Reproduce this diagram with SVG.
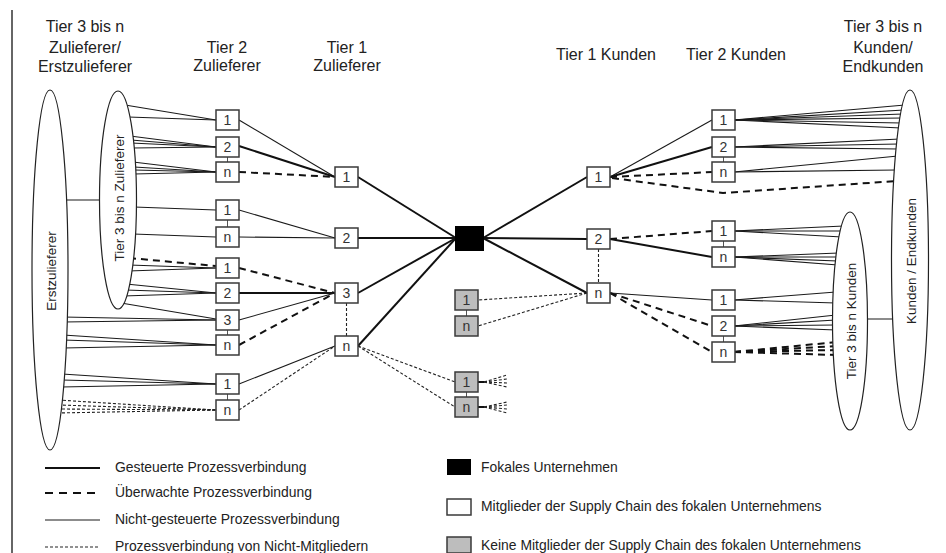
<svg xmlns="http://www.w3.org/2000/svg" width="946" height="553" viewBox="0 0 946 553">
<style>
text{font-family:"Liberation Sans",Arial,sans-serif;fill:#222}
.hd{font-size:16px;text-anchor:middle}
.rot{font-size:13.5px;text-anchor:middle}
.lg{font-size:13.9px}
.bl{font-size:14px;text-anchor:middle;fill:#333}
.box{fill:#fff;stroke:#3a3a3a;stroke-width:1.5}
.gbox{fill:#bdbdbd;stroke:#3a3a3a;stroke-width:1.5}
.ell{fill:#fff;stroke:#222;stroke-width:1.2}
.g{stroke:#111;stroke-width:2;fill:none}
.t{stroke:#1a1a1a;stroke-width:1.1;fill:none}
.d{stroke:#111;stroke-width:2;stroke-dasharray:7 5;fill:none}
.p{stroke:#222;stroke-width:1.1;stroke-dasharray:3 2;fill:none}
.lk{stroke:#555;stroke-width:1;fill:none}
</style>
<rect width="946" height="553" fill="#fff"/>
<line x1="12" y1="10" x2="12" y2="553" stroke="#333" stroke-width="1.5"/>

<g id="headers">
<text class="hd" x="85" y="32">Tier 3 bis n</text>
<text class="hd" x="85" y="53">Zulieferer/</text>
<text class="hd" x="85" y="72">Erstzulieferer</text>
<text class="hd" x="227" y="53">Tier 2</text>
<text class="hd" x="227" y="71">Zulieferer</text>
<text class="hd" x="347" y="53">Tier 1</text>
<text class="hd" x="347" y="71">Zulieferer</text>
<text class="hd" x="606" y="60">Tier 1 Kunden</text>
<text class="hd" x="736" y="60">Tier 2 Kunden</text>
<text class="hd" x="883" y="32">Tier 3 bis n</text>
<text class="hd" x="883" y="53">Kunden/</text>
<text class="hd" x="883" y="72">Endkunden</text>
</g>

<g id="connectors">
<line class="t" x1="55" y1="200" x2="115" y2="200"/>
<line class="t" x1="845" y1="319" x2="905" y2="319"/>
<line class="t" x1="125" y1="105" x2="216" y2="120"/>
<line class="t" x1="128" y1="117" x2="216" y2="120"/>
<line class="t" x1="130" y1="136" x2="216" y2="147"/>
<line class="t" x1="131" y1="140" x2="216" y2="147"/>
<line class="t" x1="131" y1="143" x2="216" y2="147"/>
<line class="t" x1="132" y1="148" x2="216" y2="147"/>
<line class="t" x1="133" y1="162" x2="216" y2="172"/>
<line class="t" x1="134" y1="167" x2="216" y2="172"/>
<line class="t" x1="134" y1="170" x2="216" y2="172"/>
<line class="t" x1="134" y1="174" x2="216" y2="172"/>
<line class="t" x1="134" y1="207" x2="216" y2="210"/>
<line class="t" x1="133" y1="234" x2="216" y2="237"/>
<line class="d" x1="129" y1="258" x2="216" y2="266"/>
<line class="t" x1="129" y1="265" x2="216" y2="268"/>
<line class="t" x1="128" y1="271" x2="216" y2="268"/>
<line class="t" x1="126" y1="284" x2="216" y2="293"/>
<line class="t" x1="125" y1="290" x2="216" y2="293"/>
<line class="t" x1="123" y1="296" x2="216" y2="293"/>
<line class="t" x1="121" y1="303" x2="216" y2="319"/>
<line class="t" x1="63" y1="317" x2="216" y2="320"/>
<line class="t" x1="63" y1="322" x2="216" y2="320"/>
<line class="t" x1="63" y1="335" x2="216" y2="345"/>
<line class="t" x1="63" y1="340" x2="216" y2="345"/>
<line class="t" x1="63" y1="348" x2="216" y2="345"/>
<line class="t" x1="62" y1="374" x2="216" y2="384"/>
<line class="t" x1="62" y1="380" x2="216" y2="384"/>
<line class="t" x1="61" y1="387" x2="216" y2="384"/>
<line class="p" x1="58" y1="400" x2="216" y2="410"/>
<line class="p" x1="58" y1="405" x2="216" y2="410"/>
<line class="p" x1="57" y1="409" x2="216" y2="410"/>
<line class="p" x1="57" y1="413" x2="216" y2="410"/>
<line class="t" x1="239" y1="120" x2="335" y2="177"/>
<line class="g" x1="239" y1="146" x2="335" y2="177"/>
<line class="d" x1="239" y1="172" x2="335" y2="177"/>
<line class="t" x1="239" y1="210" x2="335" y2="238"/>
<line class="t" x1="239" y1="237" x2="335" y2="238"/>
<line class="d" x1="239" y1="268" x2="335" y2="293"/>
<line class="g" x1="239" y1="293" x2="335" y2="293"/>
<line class="t" x1="239" y1="320" x2="335" y2="293"/>
<line class="d" x1="239" y1="345" x2="335" y2="293"/>
<line class="t" x1="239" y1="384" x2="335" y2="346"/>
<line class="p" x1="239" y1="410" x2="335" y2="346"/>
<line class="p" x1="346.5" y1="303" x2="346.5" y2="336"/>
<line class="g" x1="358" y1="177" x2="456" y2="238"/>
<line class="g" x1="358" y1="238" x2="456" y2="238"/>
<line class="g" x1="358" y1="293" x2="456" y2="238"/>
<line class="g" x1="358" y1="346" x2="456" y2="238"/>
<line class="p" x1="358" y1="346" x2="455" y2="382"/>
<line class="p" x1="358" y1="346" x2="455" y2="407"/>
<line class="p" x1="587" y1="293" x2="478" y2="300"/>
<line class="p" x1="587" y1="293" x2="478" y2="326"/>
<line class="g" x1="478" y1="382" x2="484" y2="382"/>
<line class="p" x1="484" y1="382" x2="507" y2="375"/>
<line class="p" x1="484" y1="382" x2="507" y2="379"/>
<line class="p" x1="484" y1="382" x2="507" y2="383"/>
<line class="p" x1="484" y1="382" x2="507" y2="387"/>
<line class="g" x1="478" y1="407" x2="484" y2="407"/>
<line class="p" x1="484" y1="407" x2="507" y2="402"/>
<line class="p" x1="484" y1="407" x2="507" y2="405"/>
<line class="p" x1="484" y1="407" x2="507" y2="409"/>
<line class="p" x1="484" y1="407" x2="507" y2="413"/>
<line class="g" x1="483" y1="238" x2="587" y2="177"/>
<line class="g" x1="483" y1="238" x2="587" y2="239"/>
<line class="g" x1="483" y1="238" x2="587" y2="293"/>
<line class="p" x1="598.5" y1="249" x2="598.5" y2="283"/>
<line class="t" x1="610" y1="177" x2="712" y2="120"/>
<line class="g" x1="610" y1="177" x2="712" y2="147"/>
<line class="d" x1="610" y1="177" x2="712" y2="172"/>
<polyline class="d" points="612,178 723,193 897,181"/>
<line class="d" x1="610" y1="239" x2="712" y2="231"/>
<line class="g" x1="610" y1="239" x2="712" y2="257"/>
<line class="t" x1="610" y1="293" x2="712" y2="300"/>
<line class="d" x1="610" y1="293" x2="712" y2="326"/>
<line class="d" x1="610" y1="293" x2="712" y2="352"/>
<line class="t" x1="734" y1="120" x2="905" y2="105"/>
<line class="t" x1="734" y1="120" x2="904" y2="110"/>
<line class="t" x1="734" y1="120" x2="903" y2="114"/>
<line class="t" x1="734" y1="120" x2="903" y2="118"/>
<line class="t" x1="734" y1="120" x2="902" y2="123"/>
<line class="t" x1="734" y1="120" x2="901" y2="128"/>
<line class="t" x1="734" y1="147" x2="900" y2="139"/>
<line class="t" x1="734" y1="147" x2="899" y2="144"/>
<line class="t" x1="734" y1="147" x2="899" y2="149"/>
<line class="t" x1="734" y1="172" x2="898" y2="156"/>
<line class="t" x1="734" y1="172" x2="897" y2="170"/>
<line class="t" x1="734" y1="231" x2="844" y2="226"/>
<line class="t" x1="734" y1="231" x2="843" y2="231"/>
<line class="t" x1="734" y1="231" x2="842" y2="237"/>
<line class="t" x1="734" y1="257" x2="839" y2="253"/>
<line class="t" x1="734" y1="257" x2="839" y2="257"/>
<line class="t" x1="734" y1="257" x2="838" y2="261"/>
<line class="t" x1="734" y1="257" x2="838" y2="265"/>
<line class="t" x1="734" y1="300" x2="836" y2="292"/>
<line class="t" x1="734" y1="300" x2="836" y2="303"/>
<line class="t" x1="734" y1="326" x2="836" y2="315"/>
<line class="t" x1="734" y1="326" x2="836" y2="320"/>
<line class="t" x1="734" y1="326" x2="836" y2="325"/>
<line class="t" x1="734" y1="326" x2="836" y2="330"/>
<line class="d" x1="734" y1="352" x2="837" y2="342"/>
<line class="d" x1="734" y1="352" x2="837" y2="346"/>
<line class="d" x1="734" y1="352" x2="837" y2="350"/>
<line class="d" x1="734" y1="352" x2="837" y2="355"/>
<line class="lk" x1="227.5" y1="157" x2="227.5" y2="162"/>
<line class="lk" x1="227.5" y1="220" x2="227.5" y2="227"/>
<line class="lk" x1="227.5" y1="330" x2="227.5" y2="335"/>
<line class="lk" x1="227.5" y1="394" x2="227.5" y2="400"/>
<line class="lk" x1="466.5" y1="310" x2="466.5" y2="316"/>
<line class="lk" x1="466.5" y1="392" x2="466.5" y2="397"/>
<line class="lk" x1="723.5" y1="157" x2="723.5" y2="162"/>
<line class="lk" x1="723.5" y1="241" x2="723.5" y2="247"/>
<line class="lk" x1="723.5" y1="336" x2="723.5" y2="342"/>
</g>

<g id="erstzulieferer"><ellipse class="ell" cx="50" cy="270" rx="18" ry="180"/><text class="rot" transform="translate(56,271) rotate(-90)">Erstzulieferer</text></g>
<g id="tier3-zulieferer"><ellipse class="ell" cx="118" cy="200" rx="18.5" ry="109"/><text class="rot" transform="translate(124,198) rotate(-90)">Tier 3 bis n Zulieferer</text></g>
<g id="tier3-kunden"><ellipse class="ell" cx="850" cy="321" rx="17.5" ry="109"/><text class="rot" transform="translate(856,321) rotate(-90)">Tier 3 bis n Kunden</text></g>
<g id="endkunden"><ellipse class="ell" cx="910" cy="260" rx="18.5" ry="170"/><text class="rot" transform="translate(916,261) rotate(-90)">Kunden / Endkunden</text></g>

<g id="s2a1"><rect class="box" x="216" y="110" width="23" height="20"/><text class="bl" x="227.5" y="125">1</text></g>
<g id="s2a2"><rect class="box" x="216" y="137" width="23" height="20"/><text class="bl" x="227.5" y="152">2</text></g>
<g id="s2an"><rect class="box" x="216" y="162" width="23" height="20"/><text class="bl" x="227.5" y="177">n</text></g>
<g id="s2b1"><rect class="box" x="216" y="200" width="23" height="20"/><text class="bl" x="227.5" y="215">1</text></g>
<g id="s2bn"><rect class="box" x="216" y="227" width="23" height="20"/><text class="bl" x="227.5" y="242">n</text></g>
<g id="s2c1"><rect class="box" x="216" y="258" width="23" height="20"/><text class="bl" x="227.5" y="273">1</text></g>
<g id="s2c2"><rect class="box" x="216" y="283" width="23" height="20"/><text class="bl" x="227.5" y="298">2</text></g>
<g id="s2c3"><rect class="box" x="216" y="310" width="23" height="20"/><text class="bl" x="227.5" y="325">3</text></g>
<g id="s2cn"><rect class="box" x="216" y="335" width="23" height="20"/><text class="bl" x="227.5" y="350">n</text></g>
<g id="s2d1"><rect class="box" x="216" y="374" width="23" height="20"/><text class="bl" x="227.5" y="389">1</text></g>
<g id="s2dn"><rect class="box" x="216" y="400" width="23" height="20"/><text class="bl" x="227.5" y="415">n</text></g>

<g id="s1-1"><rect class="box" x="335" y="167" width="23" height="20"/><text class="bl" x="346.5" y="182">1</text></g>
<g id="s1-2"><rect class="box" x="335" y="228" width="23" height="20"/><text class="bl" x="346.5" y="243">2</text></g>
<g id="s1-3"><rect class="box" x="335" y="283" width="23" height="20"/><text class="bl" x="346.5" y="298">3</text></g>
<g id="s1-n"><rect class="box" x="335" y="336" width="23" height="20"/><text class="bl" x="346.5" y="351">n</text></g>

<g id="focal"><rect x="455" y="226" width="29" height="25" fill="#000"/></g>

<g id="g1"><rect class="gbox" x="455" y="290" width="23" height="20"/><text class="bl" x="466.5" y="305">1</text></g>
<g id="gn"><rect class="gbox" x="455" y="316" width="23" height="20"/><text class="bl" x="466.5" y="331">n</text></g>
<g id="g3"><rect class="gbox" x="455" y="372" width="23" height="20"/><text class="bl" x="466.5" y="387">1</text></g>
<g id="g4"><rect class="gbox" x="455" y="397" width="23" height="20"/><text class="bl" x="466.5" y="412">n</text></g>

<g id="c1-1"><rect class="box" x="587" y="167" width="23" height="20"/><text class="bl" x="598.5" y="182">1</text></g>
<g id="c1-2"><rect class="box" x="587" y="229" width="23" height="20"/><text class="bl" x="598.5" y="244">2</text></g>
<g id="c1-n"><rect class="box" x="587" y="283" width="23" height="20"/><text class="bl" x="598.5" y="298">n</text></g>

<g id="c2a1"><rect class="box" x="712" y="110" width="23" height="20"/><text class="bl" x="723.5" y="125">1</text></g>
<g id="c2a2"><rect class="box" x="712" y="137" width="23" height="20"/><text class="bl" x="723.5" y="152">2</text></g>
<g id="c2an"><rect class="box" x="712" y="162" width="23" height="20"/><text class="bl" x="723.5" y="177">n</text></g>
<g id="c2b1"><rect class="box" x="712" y="221" width="23" height="20"/><text class="bl" x="723.5" y="236">1</text></g>
<g id="c2bn"><rect class="box" x="712" y="247" width="23" height="20"/><text class="bl" x="723.5" y="262">n</text></g>
<g id="c2c1"><rect class="box" x="712" y="290" width="23" height="20"/><text class="bl" x="723.5" y="305">1</text></g>
<g id="c2c2"><rect class="box" x="712" y="316" width="23" height="20"/><text class="bl" x="723.5" y="331">2</text></g>
<g id="c2cn"><rect class="box" x="712" y="342" width="23" height="20"/><text class="bl" x="723.5" y="357">n</text></g>

<g id="legend">
<line class="g" x1="45" y1="468" x2="100" y2="468"/>
<text class="lg" x="115" y="472">Gesteuerte Prozessverbindung</text>
<line class="d" x1="45" y1="493" x2="100" y2="493" style="stroke-dasharray:8 6"/>
<text class="lg" x="115" y="497">Überwachte Prozessverbindung</text>
<line class="t" x1="45" y1="520" x2="100" y2="520"/>
<text class="lg" x="115" y="524">Nicht-gesteuerte Prozessverbindung</text>
<line class="p" x1="45" y1="547" x2="100" y2="547"/>
<text class="lg" x="115" y="551">Prozessverbindung von Nicht-Mitgliedern</text>
<rect x="447" y="459" width="24" height="16" fill="#000"/>
<text class="lg" x="481" y="472">Fokales Unternehmen</text>
<rect class="box" x="447" y="499" width="24" height="16"/>
<text class="lg" x="481" y="511">Mitglieder der Supply Chain des fokalen Unternehmens</text>
<rect class="gbox" x="447" y="537" width="24" height="16"/>
<text class="lg" x="481" y="550">Keine Mitglieder der Supply Chain des fokalen Unternehmens</text>
</g>
</svg>
